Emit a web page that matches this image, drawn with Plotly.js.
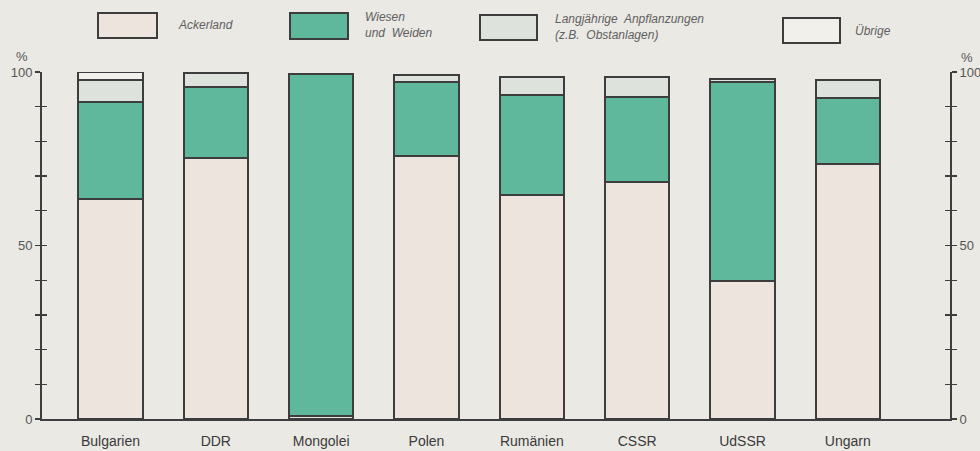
<!DOCTYPE html>
<html>
<head>
<meta charset="utf-8">
<script src="https://cdn.plot.ly/plotly-3.0.1.min.js"></script>
<style>
  html, body { margin: 0; padding: 0; background: #ebe9e4; }
  #chart { width: 980px; height: 451px; }
</style>
</head>
<body>
<div id="chart"></div>
<script>
// ---- Data (percent of agricultural area) ----
const countries = ['Bulgarien', 'DDR', 'Mongolei', 'Polen', 'Rumänien', 'CSSR', 'UdSSR', 'Ungarn'];
const ackerland = [63.3, 75.3, 0.8, 75.8, 64.6, 68.4, 39.9, 73.4];
const wiesen    = [28.1, 20.4, 98.6, 21.4, 28.8, 24.3, 57.1, 19.0];
const langj     = [6.3, 4.0, 0, 1.8, 5.2, 5.8, 1.0, 5.3];
const uebrige   = [2.3, 0, 0, 0, 0, 0, 0, 0];

const seriesNames = ['Ackerland', 'Wiesen und Weiden', 'Langjährige Anpflanzungen (z.B. Obstanlagen)', 'Übrige'];
const legendLabels = ['Ackerland', 'Wiesen<br>und  Weiden', 'Langjährige  Anpflanzungen<br>(z.B.  Obstanlagen)', 'Übrige'];
const yTickVals = [0, 10, 20, 30, 40, 50, 60, 70, 80, 90, 100];
const yTickText = ['0', '', '', '', '', '50', '', '', '', '', '100'];

// ---- Styles ----
const colors = ['#ece4dd', '#5fb89c', '#dde3dc', '#f2f0eb'];
const outline = '#3d3d3d';
const bg = '#ebe9e4';
const W = 980, H = 451;
const M = { l: 42, r: 30, t: 72, b: 32 };
const plotW = W - M.l - M.r, plotH = H - M.t - M.b;
const px = x => (x - M.l) / plotW;
const py = y => (H - M.b - y) / plotH;
const FONT = 'Liberation Sans, Arial, sans-serif';

const data = [ackerland, wiesen, langj, uebrige].map((vals, i) => ({
  type: 'bar',
  x: countries,
  y: vals,
  name: seriesNames[i],
  marker: { color: colors[i], line: { color: outline, width: 2 } },
  width: 0.61,
  cliponaxis: false,
  hoverinfo: 'x+y+name',
  showlegend: false
}));

// overlay traces to carry extra axes (invisible)
['y2', 'y3', 'y4'].forEach(ax => data.push({
  type: 'scatter', x: [countries[0]], y: [0], yaxis: ax, mode: 'markers',
  marker: { opacity: 0 }, showlegend: false, hoverinfo: 'skip'
}));

const yBase = {
  range: [0, 100], tickvals: yTickVals, ticktext: yTickText, ticklen: 5, tickwidth: 1.3,
  tickcolor: outline, showline: true, linecolor: outline, linewidth: 2, showgrid: false,
  zeroline: false, tickfont: { family: FONT, size: 13, color: '#555' },
  fixedrange: true
};

// legend drawn as boxes + text
const legBoxes = [
  { x0: 98, x1: 157, y0: 13, y1: 38 },
  { x0: 290, x1: 348, y0: 13, y1: 39 },
  { x0: 480, x1: 537, y0: 15, y1: 40 },
  { x0: 783, x1: 840, y0: 18, y1: 43 }
];
const legText = [
  { x: 176, y: 25 }, { x: 363, y: 25 }, { x: 553, y: 27 }, { x: 853, y: 31 }
];

const shapes = legBoxes.map((b, i) => ({
  type: 'rect', xref: 'paper', yref: 'paper',
  x0: px(b.x0), x1: px(b.x1), y0: py(b.y1), y1: py(b.y0),
  fillcolor: colors[i], line: { color: outline, width: 2 }
}));

const annotations = legText.map((t, i) => ({
  xref: 'paper', yref: 'paper', x: px(t.x), y: py(t.y), xanchor: 'left', yanchor: 'middle',
  text: '<i>' + legendLabels[i] + '</i>', showarrow: false, align: 'left',
  font: { family: FONT, size: 12, color: '#606060' }
}));
annotations.push({ xref: 'paper', yref: 'paper', x: px(22), y: py(57), xanchor: 'center', yanchor: 'middle',
  text: '%', showarrow: false, font: { family: FONT, size: 13, color: '#555' } });
annotations.push({ xref: 'paper', yref: 'paper', x: px(967), y: py(58), xanchor: 'center', yanchor: 'middle',
  text: '%', showarrow: false, font: { family: FONT, size: 13, color: '#555' } });

const layout = {
  width: W, height: H,
  margin: M,
  paper_bgcolor: bg, plot_bgcolor: bg,
  barmode: 'stack',
  showlegend: false,
  xaxis: {
    type: 'category', range: [-0.65, 7.97], showgrid: false, zeroline: false,
    showline: true, linecolor: outline, linewidth: 2, ticks: '', ticklabelstandoff: 8,
    tickfont: { family: FONT, size: 14, color: '#3a3a3a' },
    fixedrange: true
  },
  yaxis: Object.assign({}, yBase, { side: 'left', ticks: 'outside' }),
  yaxis3: Object.assign({}, yBase, { side: 'left', ticks: 'inside', overlaying: 'y', anchor: 'x', showticklabels: false }),
  yaxis2: Object.assign({}, yBase, { side: 'right', ticks: 'outside', overlaying: 'y', anchor: 'x' }),
  yaxis4: Object.assign({}, yBase, { side: 'right', ticks: 'inside', overlaying: 'y', anchor: 'x', showticklabels: false }),
  shapes: shapes,
  annotations: annotations
};

Plotly.newPlot('chart', data, layout, { displayModeBar: false, staticPlot: true });
</script>
</body>
</html>
